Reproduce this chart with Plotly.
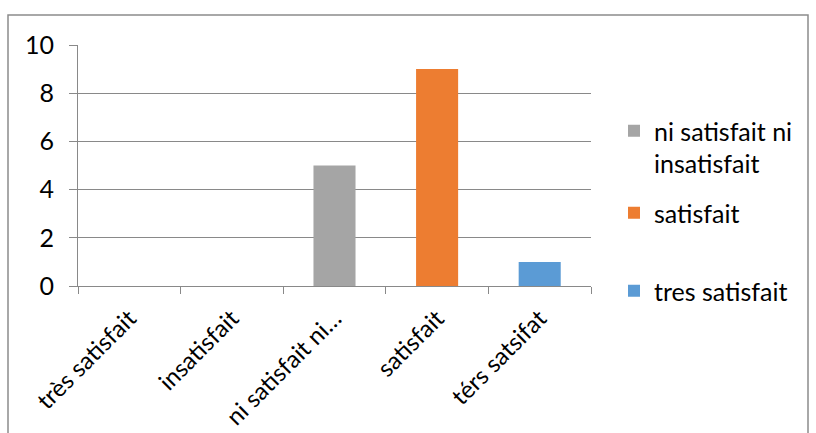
import plotly.graph_objects as go

# Survey answers (x-axis categories as typed in the sheet)
categories = ["très satisfait", "insatisfait", "ni satisfait ni…", "satisfait", "térs satsifat"]

# One series per coloured bar
series_names = ["ni satisfait ni<br>insatisfait", "satisfait", "tres satisfait"]
series_x = ["ni satisfait ni…", "satisfait", "térs satsifat"]
series_y = [5, 9, 1]
series_colors = ["#A5A5A5", "#ED7D31", "#5B9BD5"]

y_ticks = [0, 2, 4, 6, 8, 10]

FONT = "Lato"
FS = 25
GRID = "#898989"

# plot-area box in pixels
W, H = 816, 433
L, R, T, B = 78, 591, 45, 286
pw, ph = R - L, B - T

fig = go.Figure()

legend_ids = ["legend", "legend2", "legend3"]
legend_y_px = [108, 190, 268]  # top of each legend entry

for name, x, y, c, lg in zip(series_names, series_x, series_y, series_colors, legend_ids):
    fig.add_trace(go.Bar(
        x=[x], y=[y], name=name, marker_color=c, marker_line_width=0,
        width=0.41, legend=lg,
    ))

legend_common = dict(
    xanchor="left", yanchor="top", bgcolor="rgba(0,0,0,0)",
    font=dict(family=FONT, size=FS, color="#000000"), valign="top",
    borderwidth=0, itemclick=False,
)
layout_legends = {}
for lg, ypx in zip(legend_ids, legend_y_px):
    layout_legends[lg] = dict(legend_common, x=(614 - L) / pw, y=(B - ypx) / ph)

fig.update_layout(
    width=W, height=H,
    margin=dict(l=L, r=W - R, t=T, b=H - B, pad=0, autoexpand=False),
    paper_bgcolor="white", plot_bgcolor="white",
    barmode="overlay", showlegend=True,
    font=dict(family=FONT, size=FS, color="#000000"),
    xaxis=dict(
        categoryorder="array", categoryarray=categories,
        tickmode="array", tickvals=categories, ticktext=categories,
        tickangle=-45, tickson="boundaries", ticks="outside", ticklen=7,
        tickcolor=GRID, tickwidth=1, automargin=False,
        showline=True, linecolor=GRID, linewidth=1,
        showgrid=False, zeroline=False, range=[-0.5, 4.5],
        tickfont=dict(family=FONT, size=24, color="#000000"),
        ticklabelstandoff=8,
    ),
    yaxis=dict(
        range=[0, 10], tickvals=y_ticks, ticks="outside", ticklen=8,
        tickcolor=GRID, tickwidth=1, automargin=False,
        showline=True, linecolor=GRID, linewidth=1,
        showgrid=True, gridcolor=GRID, gridwidth=1, zeroline=False,
        tickfont=dict(family=FONT, size=FS, color="#000000"),
        ticklabelstandoff=10,
    ),
    **layout_legends,
)

# chart frame
fig.add_shape(
    type="rect", xref="paper", yref="paper",
    x0=(8 - L) / pw, x1=(808 - L) / pw,
    y0=(B - 445) / ph, y1=(B - 15) / ph,
    line=dict(color="#8C8C8C", width=1.5), fillcolor="rgba(0,0,0,0)", layer="below",
)

fig.write_html("out.html")
